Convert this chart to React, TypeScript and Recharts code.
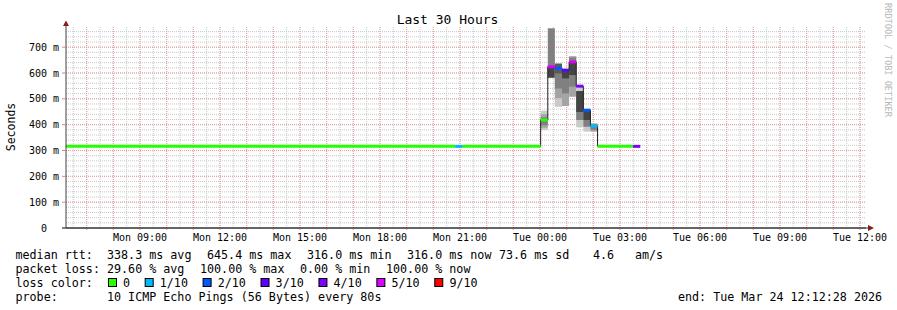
import React from "react";
import { ComposedChart, Line, Area, XAxis, YAxis, CartesianGrid } from "recharts";

// time is in hours since Mon 00:00
const START_H = 6.225; // Mon 06:13
const END_H = 36.225; // Tue 12:13
const LABEL_HOURS = [9, 12, 15, 18, 21, 24, 27, 30, 33, 36];
const Y_TICKS = [0, 100, 200, 300, 400, 500, 600, 700];
const Y_MAX = 778;

// median rtt steps: edges (hours), median (ms) and loss (of 10 pings) per step
const STEP_EDGES = [6.225, 20.825, 21.092, 24.025, 24.292, 24.558, 24.825, 25.092, 25.358, 25.625, 25.892, 26.158, 27.492, 27.758];
const MEDIAN_MS = [316, 316, 316, 418, 624, 618, 611, 643, 549, 456, 395, 316, 316];
const LOSS_OF_10 = [0, 1, 0, 0, 5, 2, 3, 5, 4, 2, 1, 0, 4];

// smoke: ping pair ranges per step, rank 1 (outer pair) .. rank 5 (inner pair)
const SMOKE: Array<Array<[number, number] | null>> = [
  [],
  [],
  [],
  [[379, 454], [388, 440], [398, 428], null, null],
  [null, null, [582, 773], null, [582, 624]],
  [[469, 636], [502, 636], [540, 632], [598, 636], null],
  [null, [472, 611], [521, 611], null, [579, 611]],
  [null, [508, 665], [547, 660], null, [592, 645]],
  [[390, 549], null, [418, 530], null, [449, 530]],
  [[373, 456], null, [392, 456], null, [418, 456]],
  [null, [373, 405], [380, 400], null, null],
  [],
  [],
];

const LOSS_LEVELS = [0, 1, 2, 3, 4, 5, 9];
const LOSS_LABELS = ["0", "1/10", "2/10", "3/10", "4/10", "5/10", "9/10"];
const LOSS_COLORS = ["#26ff00", "#00b8ff", "#0059ff", "#5e00ff", "#7e00ff", "#dd00ff", "#ff0000"];
const SMOKE_SHADES = ["#cacaca", "#a4a4a4", "#808080", "#5a5a5a", "#444444"];

const RTT_LABEL = "median rtt:";
const RTT_ITEMS = ["338.3 ms avg", "645.4 ms max", "316.0 ms min", "316.0 ms now", "73.6 ms sd", "4.6", "am/s"];
const LOSS_LABEL = "packet loss:";
const LOSS_ITEMS = ["29.60 % avg", "100.00 % max", "0.00 % min", "100.00 % now"];
const PROBE_TEXT = "10 ICMP Echo Pings (56 Bytes) every 80s";
const END_TEXT = "end: Tue Mar 24 12:12:28 2026";

const FONT = "'DejaVu Sans Mono', monospace";
const RTT_X = [107, 207, 307, 407, 499, 593, 635];
const LOSS_X = [107, 200, 300, 386];

function lossColor(loss: number) {
  let c = LOSS_COLORS[0];
  LOSS_LEVELS.forEach((l, i) => {
    if (loss >= l) c = LOSS_COLORS[i];
  });
  return c;
}

function XTick(props: any) {
  const { x, y, payload } = props;
  const h = payload.value as number;
  if (!LABEL_HOURS.includes(h)) return <g />;
  const day = h < 24 ? "Mon" : "Tue";
  const hh = String(h % 24).padStart(2, "0");
  return (
    <text x={x} y={y} dy={11.3} textAnchor="middle" fontFamily={FONT} fontSize={10} fill="#000">
      {`${day} ${hh}:00`}
    </text>
  );
}

function YTick(props: any) {
  const { x, y, payload } = props;
  const v = payload.value as number;
  return (
    <text x={x} y={y} dy={3.6} textAnchor="end" fontFamily={FONT} fontSize={10} fill="#000">
      {v === 0 ? "0\u00a0\u00a0" : `${v} m`}
    </text>
  );
}

export default function App() {
  const hourTicks: number[] = [];
  for (let h = 7; h <= 36; h++) hourTicks.push(h);
  const halfHours: number[] = [];
  for (let h = 6.5; h < END_H; h += 0.5) halfHours.push(h);
  const minorY: number[] = [];
  for (let v = 20; v < Y_MAX; v += 20) minorY.push(v);
  const majorY = Y_TICKS.slice(1);

  const smoke: { key: string; color: string; data: any[] }[] = [];
  SMOKE.forEach((ranks, i) =>
    ranks.forEach((r, k) => {
      if (!r) return;
      smoke.push({
        key: `s${i}-${k}`,
        color: SMOKE_SHADES[k],
        data: [
          { t: STEP_EDGES[i], r },
          { t: STEP_EDGES[i + 1], r },
        ],
      });
    })
  );

  const medianLine = STEP_EDGES.map((t, i) => ({
    t,
    v: MEDIAN_MS[Math.min(i, MEDIAN_MS.length - 1)],
  }));

  const segments = MEDIAN_MS.map((v, i) => ({
    key: `m${i}`,
    color: lossColor(LOSS_OF_10[i]),
    data: [
      { t: STEP_EDGES[i], v },
      { t: STEP_EDGES[i + 1], v },
    ],
  }));

  // legend color boxes
  let bx = 108.5;
  const boxes = LOSS_LABELS.map((lab, i) => {
    const item = { x: bx, label: lab, color: LOSS_COLORS[i] };
    bx += 14.6 + lab.length * 7.08 + 15;
    return item;
  });

  const textProps = { fontFamily: FONT, fontSize: 11.7, fill: "#000" };

  return (
    <div style={{ position: "absolute", left: 0, top: 0, width: 897, height: 310, background: "#fff" }}>
      <ComposedChart width={897} height={310} margin={{ top: 27, right: 31, bottom: 62, left: 6 }}>
        <CartesianGrid
          horizontalValues={minorY}
          verticalValues={halfHours}
          stroke="#c8c8c8"
          strokeDasharray="1 1"
        />
        <CartesianGrid
          horizontalValues={majorY}
          verticalValues={hourTicks}
          stroke="#eb9c9c"
          strokeDasharray="1 1"
        />
        <XAxis
          dataKey="t"
          type="number"
          domain={[START_H, END_H]}
          allowDataOverflow
          ticks={hourTicks}
          interval={0}
          tick={XTick}
          tickSize={2}
          tickMargin={0}
          tickLine={{ stroke: "#e08080" }}
          axisLine={{ stroke: "#333" }}
          height={20}
        />
        <YAxis
          type="number"
          domain={[0, Y_MAX]}
          allowDataOverflow
          ticks={Y_TICKS}
          interval={0}
          tick={YTick}
          tickSize={4}
          tickMargin={3}
          tickLine={{ stroke: "#e08080" }}
          axisLine={{ stroke: "#404040" }}
          width={60}
        />
        {smoke.map((s) => (
          <Area
            key={s.key}
            data={s.data}
            dataKey="r"
            type="linear"
            fill={s.color}
            fillOpacity={1}
            stroke="none"
            dot={false}
            activeDot={false}
            isAnimationActive={false}
          />
        ))}
        <Line
          data={medianLine}
          dataKey="v"
          type="stepAfter"
          stroke="#202020"
          strokeWidth={1}
          dot={false}
          activeDot={false}
          isAnimationActive={false}
        />
        {segments.map((s) => (
          <Line
            key={s.key}
            data={s.data}
            dataKey="v"
            type="linear"
            stroke={s.color}
            strokeWidth={3}
            dot={false}
            activeDot={false}
            isAnimationActive={false}
          />
        ))}
      </ComposedChart>
      <svg width={897} height={310} style={{ position: "absolute", left: 0, top: 0, pointerEvents: "none" }}>
        <text x={447.5} y={24} textAnchor="middle" fontFamily={FONT} fontSize={13} fill="#000">
          Last 30 Hours
        </text>
        <text
          x={11}
          y={127}
          transform="rotate(-90, 11, 127)"
          textAnchor="middle"
          dominantBaseline="central"
          fontFamily={FONT}
          fontSize={11.5}
          fill="#000"
        >
          Seconds
        </text>
        <text
          x={887.5}
          y={60}
          transform="rotate(90, 887.5, 60)"
          textAnchor="middle"
          dominantBaseline="central"
          fontFamily={FONT}
          fontSize={8.6}
          fill="#b8b8b8"
        >
          RRDTOOL / TOBI OETIKER
        </text>
        {/* axis extensions and arrows */}
        <line x1={66} y1={22} x2={66} y2={27} stroke="#404040" />
        <polygon points="63,26 69,26 66,20.5" fill="#8b1a1a" />
        <line x1={62} y1={228} x2={869} y2={228} stroke="#333" />
        <polygon points="868,225 868,231 874,228" fill="#8b1a1a" />

        <text x={15.5} y={258.6} {...textProps}>{RTT_LABEL}</text>
        {RTT_ITEMS.map((t, i) => (
          <text key={t + i} x={RTT_X[i]} y={258.6} {...textProps}>{t}</text>
        ))}
        <text x={15.5} y={272.6} {...textProps}>{LOSS_LABEL}</text>
        {LOSS_ITEMS.map((t, i) => (
          <text key={t + i} x={LOSS_X[i]} y={272.6} {...textProps}>{t}</text>
        ))}
        <text x={15.5} y={286.6} {...textProps}>loss color:</text>
        {boxes.map((b) => (
          <g key={b.label}>
            <rect x={b.x} y={278.5} width={8} height={8} fill={b.color} stroke="#000" strokeWidth={1} />
            <text x={b.x + 14.6} y={286.6} {...textProps}>{b.label}</text>
          </g>
        ))}
        <text x={15.5} y={300.6} {...textProps}>probe:</text>
        <text x={107} y={300.6} {...textProps}>{PROBE_TEXT}</text>
        <text x={678} y={300.6} {...textProps}>{END_TEXT}</text>
      </svg>
    </div>
  );
}
